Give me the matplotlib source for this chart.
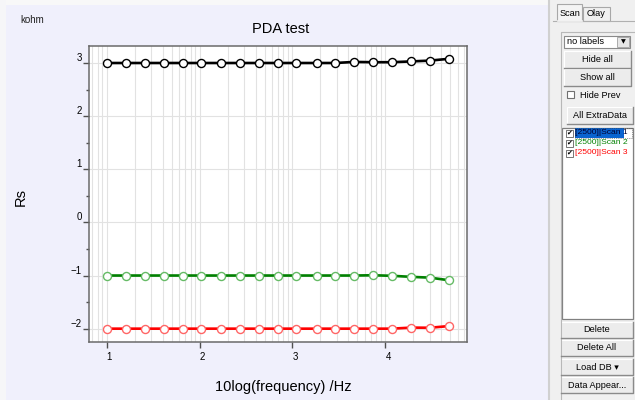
import numpy as np
import matplotlib.pyplot as plt
from matplotlib.patches import Rectangle

# data
log_freq = [1.0, 1.21, 1.41, 1.62, 1.82, 2.02, 2.23, 2.44, 2.64, 2.84,
            3.04, 3.26, 3.46, 3.66, 3.87, 4.07, 4.28, 4.48, 4.69]
scan1 = [3.0, 3.0, 3.0, 3.0, 3.0, 3.0, 3.0, 3.0, 3.0, 3.0,
         3.0, 3.0, 3.0, 3.02, 3.015, 3.015, 3.03, 3.045, 3.08]
scan2 = [-1.0, -1.0, -1.0, -1.0, -1.0, -1.0, -1.0, -1.0, -1.0, -1.0,
         -1.0, -1.0, -1.0, -1.0, -0.995, -1.005, -1.025, -1.04, -1.09]
scan3 = [-2.0, -2.0, -2.0, -2.0, -2.0, -2.0, -2.0, -2.0, -2.0, -2.0,
         -2.0, -2.0, -2.0, -2.0, -2.0, -2.0, -1.98, -1.983, -1.95]
x_ticks = [1, 2, 3, 4]
y_ticks = [-2, -1, 0, 1, 2, 3]
scan_names = ['[2500]|Scan 1', '[2500]|Scan 2', '[2500]|Scan 3']
line_colors = ['#000000', '#008000', '#FF0000']
marker_edges = ['#000000', '#66BB66', '#FF6666']

UIF = ['Liberation Sans', 'DejaVu Sans']
UIS = 6.6

fig = plt.figure(figsize=(6.35, 4.0), dpi=100)
fig.patch.set_facecolor('#F0F0F0')

# background / ui layer in pixel coords
ui = fig.add_axes([0, 0, 1, 1])
ui.set_xlim(0, 635)
ui.set_ylim(400, 0)
ui.axis('off')
ui.add_patch(Rectangle((0, 0), 548, 400, fc='#F0F0FC', ec='none'))
ui.add_patch(Rectangle((0, 0), 548, 5, fc='#F8F8F8', ec='none'))
ui.add_patch(Rectangle((0, 0), 6, 400, fc='#F6F6F8', ec='none'))
ui.plot([548.5, 548.5], [0, 400], color='#D0D0D0', lw=1.5)

ui.text(20, 20, 'kohm', fontsize=7, family='Liberation Sans', va='center', color='#202020')
ui.text(281, 29, 'PDA test', fontsize=10.5, family='Liberation Sans', ha='center', va='center')
ui.text(21, 197, 'Rs', fontsize=10.5, family='Liberation Sans', ha='center', va='center',
        rotation=90)
ui.text(283, 387, '10log(frequency) /Hz', fontsize=10.5, family='Liberation Sans',
        ha='center', va='center')

# tabs
ui.plot([553, 635], [21, 21], color='#B0B0B0', lw=0.8)
ui.add_patch(Rectangle((557, 4), 25, 17, fc='#F4F4F4', ec='#A8A8A8', lw=0.8))
ui.plot([557.5, 581.5], [21, 21], color='#F4F4F4', lw=1.2)
ui.add_patch(Rectangle((583, 7), 27, 14, fc='#F0F0F0', ec='#A8A8A8', lw=0.8))
ui.text(569.5, 13, 'Scan', fontsize=UIS, family=UIF, ha='center', va='center')
ui.text(596.5, 14, 'Olay', fontsize=UIS, family=UIF, ha='center', va='center')

# group box
ui.plot([561, 561, 635], [400, 32, 32], color='#B8B8B8', lw=0.8)


def button(y0, h, label, x0=564, x1=631):
    ui.add_patch(Rectangle((x0, y0), x1 - x0, h, fc='#ECECEC', ec='#FFFFFF', lw=0.8))
    ui.plot([x0, x1, x1], [y0 + h, y0 + h, y0], color='#8A8A8A', lw=1.0)
    ui.text((x0 + x1) / 2, y0 + h / 2, label, fontsize=UIS, family=UIF,
            ha='center', va='center')


# dropdown
ui.add_patch(Rectangle((564, 36), 66, 12, fc='white', ec='#8A8A8A', lw=0.8))
ui.add_patch(Rectangle((617, 37), 12, 10, fc='#E6E6E6', ec='#A0A0A0', lw=0.6))
ui.text(567, 42, 'no labels', fontsize=UIS, family=UIF, va='center')
ui.text(623, 42, '\u25BC', fontsize=4.5, family='DejaVu Sans', ha='center', va='center')

button(51, 17, 'Hide all')
button(69, 17, 'Show all')
ui.add_patch(Rectangle((567, 91), 7, 7, fc='white', ec='#707070', lw=0.8))
ui.text(580, 95, 'Hide Prev', fontsize=UIS, family=UIF, va='center')
button(107, 17, 'All ExtraData', x0=567, x1=633)

# list box
ui.add_patch(Rectangle((562, 128), 71, 191, fc='white', ec='#808080', lw=0.9))
for i, (name, c) in enumerate(zip(scan_names, line_colors)):
    yy = 133 + 10 * i
    ui.add_patch(Rectangle((566, yy - 3.5), 7, 7, fc='white', ec='#606060', lw=0.6))
    ui.text(569.5, yy, '\u2714', fontsize=5, family='DejaVu Sans', ha='center',
            va='center', color='black')
    if i == 0:
        ui.add_patch(Rectangle((574.5, yy - 5), 49, 10, fc='#0A64D0', ec='none'))
        ui.add_patch(Rectangle((574.5, yy - 5), 57, 10, fc='none', ec='#404040',
                               lw=0.5, ls=':'))
        ui.text(575, yy, name, fontsize=6.1, family=UIF, va='center', color='#000030')
    else:
        ui.text(575, yy, name, fontsize=6.1, family=UIF, va='center', color=c)

button(322, 16, 'Delete', x0=561, x1=633)
button(340, 16, 'Delete All', x0=561, x1=633)
button(359, 16, 'Load DB \u25BE', x0=561, x1=633)
button(377, 16, 'Data Appear...', x0=561, x1=633)

# chart
ax = fig.add_axes([0.1406, 0.1458, 0.5956, 0.7392])
ax.set_facecolor('white')
series = [scan1, scan2, scan3]
for ys, lc, mc in zip(series, line_colors, marker_edges):
    ax.plot(log_freq, ys, color=lc, lw=1.9, marker='o', ms=5.8,
            mfc='white', mec=mc, mew=1.0, zorder=3)

ax.set_xlim(0.8127, 4.884)
ax.set_ylim(-2.245, 3.32)
ax.set_xticks(x_ticks)
ax.set_yticks(y_ticks)
minor_x = [n + np.log10(k) for n in range(0, 5) for k in range(2, 10)]
ax.set_xticks([m for m in minor_x if 0.8127 < m < 4.884], minor=True)
ax.set_yticks([v + 0.5 for v in y_ticks[:-1]], minor=True)
ax.xaxis.grid(True, which='both', color='#E2E2E2', lw=0.8)
ax.yaxis.grid(True, which='major', color='#E2E2E2', lw=0.8)
ax.set_axisbelow(True)

ax.tick_params(axis='x', which='minor', length=0)
ax.tick_params(axis='x', which='major', length=4.5, width=1, color='#505050',
               labelsize=7, pad=3)
ax.tick_params(axis='y', which='major', length=4.5, width=1, color='#505050',
               labelsize=7, pad=1)
ax.tick_params(axis='y', which='minor', length=2.5, width=1, color='#505050')
for lab in ax.get_xticklabels():
    lab.set_ha('left')
    lab.set_family('Liberation Sans')
for lab in ax.get_yticklabels():
    lab.set_va('bottom')
    lab.set_family('Liberation Sans')
for sp in ax.spines.values():
    sp.set_color('#6A6A6A')
    sp.set_linewidth(1.1)

fig.savefig('out.png', dpi=100, facecolor=fig.get_facecolor())
